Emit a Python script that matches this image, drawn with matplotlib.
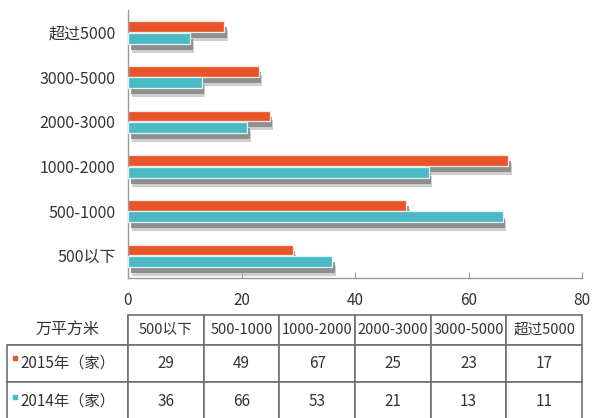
import numpy as np
import matplotlib
matplotlib.use("Agg")
import matplotlib.pyplot as plt
import matplotlib.patheffects as pe

plt.rcParams['font.family'] = ['Noto Sans CJK SC', 'DejaVu Sans']

# floor-area bands (万平方米) and company counts per year
categories = ['500以下', '500-1000', '1000-2000', '2000-3000', '3000-5000', '超过5000']
counts_2015 = [29, 49, 67, 25, 23, 17]
counts_2014 = [36, 66, 53, 21, 13, 11]
row_labels = ['2015年（家）', '2014年（家）']
corner_label = '万平方米'
xticks = [0, 20, 40, 60, 80]

RED = '#e8552a'
TEAL = '#4bbac6'
TXT = '#333333'

W, H = 595, 418
AX_L, AX_W = 128, 454
fig = plt.figure(figsize=(W / 100, H / 100), dpi=100)
ax = fig.add_axes([AX_L / W, (H - 278) / H, AX_W / W, 268 / H])

# two stacked offsets give a softer drop shadow
shadow = [pe.SimplePatchShadow(offset=(2.6, -6.5), shadow_rgbFace='#b0b0b0', alpha=0.6),
          pe.SimplePatchShadow(offset=(1.8, -4.5), shadow_rgbFace='#7f7f7f', alpha=0.8),
          pe.Normal()]
y = np.arange(len(categories))
bh = 0.24
ax.barh(y + 0.13, counts_2015, height=bh, color=RED, edgecolor='#fde6da',
        linewidth=0.9, path_effects=shadow, zorder=2)
ax.barh(y - 0.13, counts_2014, height=bh, color=TEAL, edgecolor='#dff4f6',
        linewidth=0.9, path_effects=shadow, zorder=3)

ax.set_xlim(0, 80)
ax.set_ylim(-0.5, len(categories) - 0.5)
ax.set_xticks(xticks)
ax.set_yticks(y)
ax.set_yticklabels(categories)
ax.tick_params(axis='y', length=0, pad=9, labelsize=11.5, labelcolor=TXT)
ax.tick_params(axis='x', direction='in', length=4, color='#999999', pad=10,
               labelsize=11, labelcolor=TXT)
for s in ['top', 'right']:
    ax.spines[s].set_visible(False)
for s in ['left', 'bottom']:
    ax.spines[s].set_color('#999999')
    ax.spines[s].set_linewidth(1.0)

# data table under the chart, columns lined up with the x axis
cells = [[corner_label] + categories,
         [row_labels[0]] + [str(v) for v in counts_2015],
         [row_labels[1]] + [str(v) for v in counts_2014]]
col_w = [AX_L - 7] + [AX_W / 6] * 6
x0 = (7 - AX_L) / AX_W
y_top = (278 - 315) / 268
y_bot = (278 - 420) / 268
tbl = ax.table(cellText=cells, colWidths=col_w, cellLoc='center',
               bbox=[x0, y_bot, (AX_L + AX_W - 7) / AX_W, y_top - y_bot])
tbl.auto_set_font_size(False)
tbl.set_fontsize(10.5)
row_h = [30, 37, 38]
for (r, c), cell in tbl.get_celld().items():
    cell.set_height(row_h[r])
    cell.set_edgecolor('#707070')
    cell.set_linewidth(1.2)
    cell.get_text().set_color(TXT)
    if r > 0:
        cell.get_text().set_fontsize(11)
    if r == 0 and c == 0:
        cell.visible_edges = 'BR'
        cell.get_text().set_fontsize(11.5)

# colour keys in front of the year labels
for yy, col in [(358, RED), (397, TEAL)]:
    ax.plot([15 / W], [1 - yy / H], marker='s', ms=3.5, color=col,
            transform=fig.transFigure, clip_on=False)

fig.savefig('out.png', dpi=100)
